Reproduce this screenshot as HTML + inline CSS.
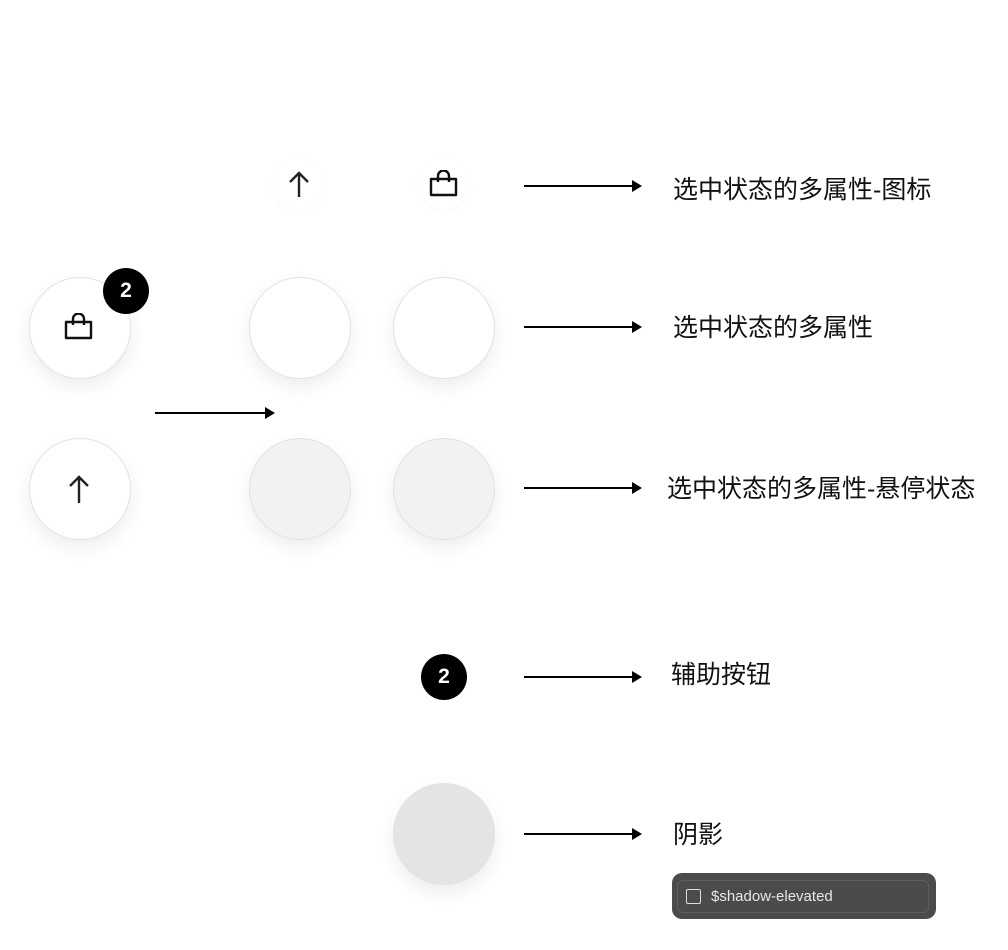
<!DOCTYPE html>
<html><head><meta charset="utf-8"><style>
body{margin:0;width:1008px;height:950px;background:#fff;position:relative;overflow:hidden;font-family:"Liberation Sans","Noto Sans CJK SC",sans-serif}
.c{position:absolute;width:102px;height:102px;border-radius:50%;border:1px solid #e2e2e2;box-sizing:border-box;background:#fff;box-shadow:0 8px 18px rgba(0,0,0,.07)}
.g{background:#f2f2f2}
.b{position:absolute;width:46px;height:46px;border-radius:50%;background:#000;color:#fff;font-weight:bold;font-size:21px;text-align:center;line-height:46px}
.a{position:absolute;height:2px;background:#000}
.a:after{content:"";position:absolute;right:-2px;top:-5px;border-left:10px solid #000;border-top:6px solid transparent;border-bottom:6px solid transparent}
.t{position:absolute;font-size:25px;color:#111;line-height:1}
svg{position:absolute}
.f{position:absolute;width:50px;height:50px;border-radius:50%;background:#fff;box-shadow:0 3px 10px rgba(0,0,0,.025)}
</style></head><body>
<div class="f" style="left:274px;top:159px"></div>
<div class="f" style="left:419px;top:159px"></div>
<svg style="left:287px;top:170px" width="24" height="28" viewBox="0 0 24 28"><path d="M12 27V3M3 12L12 3l9 9" fill="none" stroke="#222" stroke-width="2.4"/></svg>
<svg style="left:428px;top:170px" width="32" height="30" viewBox="0 0 32 30"><path d="M3 9h25v16H3zM10 12V6a5.5 5.5 0 0 1 11 0v6" fill="none" stroke="#111" stroke-width="2.4" stroke-linejoin="round"/></svg>

<div class="c" style="left:29px;top:277px"></div>
<svg style="left:63px;top:313px" width="32" height="30" viewBox="0 0 32 30"><path d="M3 9h25v16H3zM10 12V6a5.5 5.5 0 0 1 11 0v6" fill="none" stroke="#111" stroke-width="2.4" stroke-linejoin="round"/></svg>
<div class="b" style="left:103px;top:268px">2</div>
<div class="c" style="left:29px;top:438px"></div>
<svg style="left:67px;top:474px" width="24" height="30" viewBox="0 0 24 30"><path d="M12 29V3M3 12L12 3l9 9" fill="none" stroke="#222" stroke-width="2.4"/></svg>

<div class="c" style="left:249px;top:277px"></div>
<div class="c" style="left:393px;top:277px"></div>
<div class="c g" style="left:249px;top:438px"></div>
<div class="c g" style="left:393px;top:438px"></div>
<div class="a" style="left:155px;top:412px;width:118px"></div>

<div class="b" style="left:421px;top:654px">2</div>
<div class="c" style="left:393px;top:783px;background:#e4e4e4"></div>

<div class="a" style="left:524px;top:185px;width:116px"></div>
<div class="a" style="left:524px;top:326px;width:116px"></div>
<div class="a" style="left:524px;top:487px;width:116px"></div>
<div class="a" style="left:524px;top:676px;width:116px"></div>
<div class="a" style="left:524px;top:833px;width:116px"></div>

<div class="t" style="left:673px;top:178px">选中状态的多属性-图标</div>
<div class="t" style="left:673px;top:316px">选中状态的多属性</div>
<div class="t" style="left:667px;top:477px">选中状态的多属性-悬停状态</div>
<div class="t" style="left:671px;top:663px">辅助按钮</div>
<div class="t" style="left:673px;top:823px">阴影</div>

<div style="position:absolute;left:672px;top:873px;width:264px;height:46px;border-radius:10px;background:#4b4b4b">
<div style="position:absolute;left:5px;top:7px;right:7px;bottom:6px;border:1px solid #5e5e5e;border-radius:6px"></div>
<div style="position:absolute;left:14px;top:16px;width:15px;height:15px;border:1.5px solid #ddd;border-radius:2px;box-sizing:border-box"></div>
<div style="position:absolute;left:39px;top:15px;color:#e8e8e8;font-size:15px;line-height:18px">$shadow-elevated</div>
</div>
</body></html>
